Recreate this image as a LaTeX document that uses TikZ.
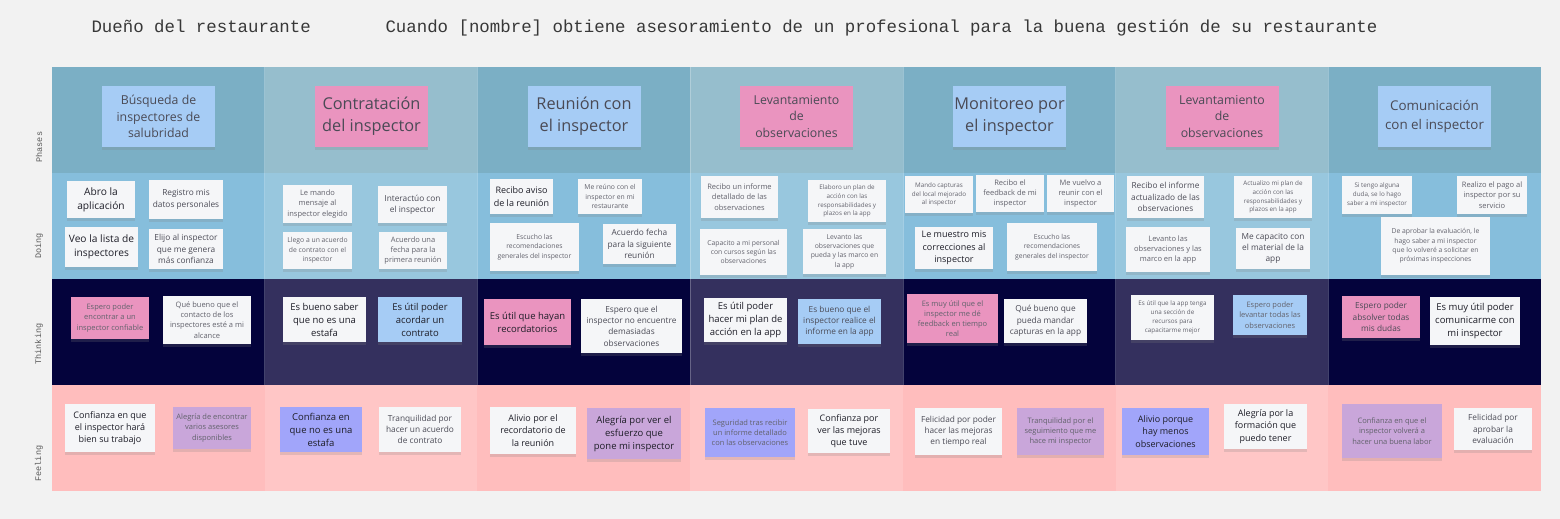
\documentclass[tikz,border=0pt]{standalone}
\usepackage{fontspec}
\setmainfont{Open Sans}
\newfontfamily\monofont{Liberation Mono}
\usetikzlibrary{shadows}
\definecolor{pagebg}{HTML}{F2F2F2}
\definecolor{phA}{HTML}{7BAFC5}
\definecolor{phB}{HTML}{96BECD}
\definecolor{doA}{HTML}{86BEDC}
\definecolor{doB}{HTML}{98C7DE}
\definecolor{thA}{HTML}{04033C}
\definecolor{thB}{HTML}{34305E}
\definecolor{feA}{HTML}{FFBDBD}
\definecolor{feB}{HTML}{FFC6C6}
\definecolor{notewh}{HTML}{F5F6F8}
\definecolor{notebl}{HTML}{A6CCF5}
\definecolor{notepk}{HTML}{EA94BF}
\definecolor{notevi}{HTML}{A1A5FA}
\definecolor{notela}{HTML}{C9A6DA}
\definecolor{txtA}{HTML}{1E1E28}
\definecolor{txtB}{HTML}{4A4A55}
\definecolor{txtC}{HTML}{62626C}
\begin{document}
\begin{tikzpicture}[x=1pt,y=-1pt,
    note/.style={rectangle,inner sep=0pt,align=center,
      drop shadow={shadow xshift=0pt,shadow yshift=-2.5pt,opacity=.22}},
    wh/.style={note,fill=notewh},
    bl/.style={note,fill=notebl},
    pk/.style={note,fill=notepk},
    vi/.style={note,fill=notevi},
    la/.style={note,fill=notela},
    sz/.style 2 args={minimum width=#1pt,minimum height=#2pt},
    phase/.style={sz={113}{61},text=txtB},
    ph16/.style={font=\fontsize{16.3}{22}\selectfont},
    ph13/.style={font=\fontsize{13.4}{19}\selectfont},
    ph12/.style={font=\fontsize{12.3}{16.8}\selectfont},
    n10/.style={font=\fontsize{10.2}{13.8}\selectfont,text=txtA},
    n95/.style={font=\fontsize{9.5}{13}\selectfont,text=txtA},
    n9/.style={font=\fontsize{9}{12.3}\selectfont,text=txtA},
    n8/.style={font=\fontsize{8.3}{11.3}\selectfont,text=txtB},
    n7/.style={font=\fontsize{7.5}{10.2}\selectfont,text=txtC},
    n6/.style={font=\fontsize{6.8}{9.4}\selectfont,text=txtC},
    n5/.style={font=\fontsize{6.3}{8.8}\selectfont,text=txtC},
    rowlab/.style={rotate=90,anchor=west,font=\monofont\fontsize{8.5}{10}\selectfont,text=black!65},
    title/.style={anchor=base west,font=\monofont\fontsize{17.4}{20}\selectfont,text=black!78}]

  \fill[pagebg] (0,0) rectangle (1560,519);

  \node[title] (persona) at (88,33) {Dueño del restaurante};
  \node[title] (scenario) at (382,33) {Cuando [nombre] obtiene asesoramiento de un profesional para la buena gestión de su restaurante};

  \foreach \c [count=\i from 0] in {A,B,A,B,A,B,A}{
    \fill[ph\c] (52+212.71*\i,67) rectangle +(212.71,105.5);
    \fill[do\c] (52+212.71*\i,172.5) rectangle +(212.71,106);
    \fill[th\c] (52+212.71*\i,278.5) rectangle +(212.71,106.5);
    \fill[fe\c] (52+212.71*\i,385) rectangle +(212.71,106);
  }
  \foreach \i in {1,...,6}
    \draw[white,opacity=.25,line width=.6pt] (52+212.71*\i,67) -- (52+212.71*\i,385);

  \node[rowlab] (lbphases) at (39,166) {Phases};
  \node[rowlab] (lbdoing) at (39,262) {Doing};
  \node[rowlab] (lbthinking) at (39,368) {Thinking};
  \node[rowlab] (lbfeeling) at (39,485) {Feeling};

  % phases
  \node[bl,phase,ph12] (p1) at (158.5,116.5) {Búsqueda de\\inspectores de\\salubridad};
  \node[pk,phase,ph16] (p2) at (371.5,116.5) {Contratación\\del inspector};
  \node[bl,phase,ph16] (p3) at (584,116.5) {Reunión con\\el inspector};
  \node[pk,phase,ph12] (p4) at (796.5,116.5) {Levantamiento\\de\\observaciones};
  \node[bl,phase,ph16] (p5) at (1009.5,116.5) {Monitoreo por\\el inspector};
  \node[pk,phase,ph12] (p6) at (1222,116.5) {Levantamiento\\de\\observaciones};
  \node[bl,phase,ph13] (p7) at (1434.5,116.5) {Comunicación\\con el inspector};

  % doing
  \node[wh,sz={68}{37},n10] (d1a) at (101,199.5) {Abro la\\aplicación};
  \node[wh,sz={74}{39},n8] (d1b) at (186,199.5) {Registro mis\\datos personales};
  \node[wh,sz={73}{40},n10] (d1c) at (101.5,247) {Veo la lista de\\inspectores};
  \node[wh,sz={74}{40},n8] (d1d) at (186,249) {Elijo al inspector\\que me genera\\más confianza};
  \node[wh,sz={69}{38},n7] (d2a) at (317.5,204) {Le mando\\mensaje al\\inspector elegido};
  \node[wh,sz={69}{37},n8] (d2b) at (412.5,204.5) {Interactúo con\\el inspector};
  \node[wh,sz={69}{37},n6] (d2c) at (317.5,250.5) {Llego a un acuerdo\\de contrato con el\\inspector};
  \node[wh,sz={68}{37},n7] (d2d) at (413,250.5) {Acuerdo una\\fecha para la\\primera reunión};
  \node[wh,sz={63}{35},n9] (d3a) at (521.5,196.5) {Recibo aviso\\de la reunión};
  \node[wh,sz={64}{35},n6] (d3b) at (610,196.5) {Me reúno con el\\inspector en mi\\restaurante};
  \node[wh,sz={89}{48},n6] (d3c) at (534.5,247) {Escucho las\\recomendaciones\\generales del inspector};
  \node[wh,sz={73}{40},n8] (d3d) at (639.5,244) {Acuerdo fecha\\para la siguiente\\reunión};
  \node[wh,sz={77}{42},n7] (d4a) at (739.5,197) {Recibo un informe\\detallado de las\\observaciones};
  \node[wh,sz={78}{42},n5] (d4b) at (847,201) {Elaboro un plan de\\acción con las\\responsabilidades y\\plazos en la app};
  \node[wh,sz={87}{46},n6] (d4c) at (743.5,252) {Capacito a mi personal\\con cursos según las\\observaciones};
  \node[wh,sz={83}{45},n6] (d4d) at (844.5,251.5) {Levanto las\\observaciones que\\pueda y las marco en\\la app};
  \node[wh,sz={68}{37},n5] (d5a) at (939,194.5) {Mando capturas\\del local mejorado\\al inspector};
  \node[wh,sz={68}{37},n7] (d5b) at (1010,193.5) {Recibo el\\feedback de mi\\inspector};
  \node[wh,sz={67}{37},n7] (d5c) at (1080.5,193.5) {Me vuelvo a\\reunir con el\\inspector};
  \node[wh,sz={78}{42},n9] (d5d) at (954,248) {Le muestro mis\\correcciones al\\inspector};
  \node[wh,sz={90}{48},n6] (d5e) at (1052,247) {Escucho las\\recomendaciones\\generales del inspector};
  \node[wh,sz={77}{42},n8] (d6a) at (1165.5,197) {Recibo el informe\\actualizado de las\\observaciones};
  \node[wh,sz={78}{42},n5] (d6b) at (1273,197) {Actualizo mi plan de\\acción con las\\responsabilidades y\\plazos en la app};
  \node[wh,sz={84}{45},n7] (d6c) at (1168,249.5) {Levanto las\\observaciones y las\\marco en la app};
  \node[wh,sz={74}{41},n8] (d6d) at (1273,248.5) {Me capacito con\\el material de la\\app};
  \node[wh,sz={70}{38},n5] (d7a) at (1377,195) {Si tengo alguna\\duda, se lo hago\\saber a mi inspector};
  \node[wh,sz={70}{38},n7] (d7b) at (1492,195) {Realizo el pago al\\inspector por su\\servicio};
  \node[wh,sz={109}{58},n6] (d7c) at (1435.5,246) {De aprobar la evaluación, le\\hago saber a mi inspector\\que lo volveré a solicitar en\\próximas inspecciones};

  % thinking
  \node[pk,sz={78}{42},n7] (t1a) at (110,318) {Espero poder\\encontrar a un\\inspector confiable};
  \node[wh,sz={88}{48},n7] (t1b) at (207,320) {Qué bueno que el\\contacto de los\\inspectores esté a mi\\alcance};
  \node[wh,sz={83}{45},n95] (t2a) at (324.5,319.5) {Es bueno saber\\que no es una\\estafa};
  \node[bl,sz={84}{45},n95] (t2b) at (420,319.5) {Es útil poder\\acordar un\\contrato};
  \node[pk,sz={87}{46},n95] (t3a) at (527.5,322) {Es útil que hayan\\recordatorios};
  \node[wh,sz={101}{54},n8] (t3b) at (631.5,326) {Espero que el\\inspector no encuentre\\demasiadas\\observaciones};
  \node[wh,sz={83}{44},n95] (t4a) at (745.5,320) {Es útil poder\\hacer mi plan de\\acción en la app};
  \node[bl,sz={83}{45},n8] (t4b) at (839.5,321.5) {Es bueno que el\\inspector realice el\\informe en la app};
  \node[pk,sz={91}{49},n7] (t5a) at (952.5,318.5) {Es muy útil que el\\inspector me dé\\feedback en tiempo\\real};
  \node[wh,sz={83}{44},n8] (t5b) at (1045.5,321) {Qué bueno que\\pueda mandar\\capturas en la app};
  \node[wh,sz={83}{45},n5] (t6a) at (1172.5,317.5) {Es útil que la app tenga\\una sección de\\recursos para\\capacitarme mejor};
  \node[bl,sz={74}{40},n7] (t6b) at (1270,315) {Espero poder\\levantar todas las\\observaciones};
  \node[pk,sz={78}{42},n8] (t7a) at (1381,317) {Espero poder\\absolver todas\\mis dudas};
  \node[wh,sz={90}{48},n95] (t7b) at (1475,321) {Es muy útil poder\\comunicarme con\\mi inspector};

  % feeling
  \node[wh,sz={90}{48},n9] (f1a) at (110,428) {Confianza en que\\el inspector hará\\bien su trabajo};
  \node[la,sz={78}{42},n7] (f1b) at (212,428) {Alegría de encontrar\\varios asesores\\disponibles};
  \node[vi,sz={82}{45},n95] (f2a) at (321,429.5) {Confianza en\\que no es una\\estafa};
  \node[wh,sz={82}{45},n8] (f2b) at (420,429.5) {Tranquilidad por\\hacer un acuerdo\\de contrato};
  \node[wh,sz={86}{47},n9] (f3a) at (533,430.5) {Alivio por el\\recordatorio de\\la reunión};
  \node[la,sz={94}{51},n95] (f3b) at (634,433.5) {Alegría por ver el\\esfuerzo que\\pone mi inspector};
  \node[vi,sz={90}{49},n7] (f4a) at (750,432.5) {Seguridad tras recibir\\un informe detallado\\con las observaciones};
  \node[wh,sz={82}{44},n9] (f4b) at (849,431) {Confianza por\\ver las mejoras\\que tuve};
  \node[wh,sz={87}{47},n8] (f5a) at (958.5,431.5) {Felicidad por poder\\hacer las mejoras\\en tiempo real};
  \node[la,sz={87}{47},n7] (f5b) at (1060.5,431.5) {Tranquilidad por el\\seguimiento que me\\hace mi inspector};
  \node[vi,sz={87}{47},n9] (f6a) at (1165.5,431.5) {Alivio porque\\hay menos\\observaciones};
  \node[wh,sz={83}{45},n9] (f6b) at (1265.5,426.5) {Alegría por la\\formación que\\puedo tener};
  \node[la,sz={100}{54},n7] (f7a) at (1392,431) {Confianza en que el\\inspector volverá a\\hacer una buena labor};
  \node[wh,sz={78}{42},n8] (f7b) at (1493,429) {Felicidad por\\aprobar la\\evaluación};
\end{tikzpicture}
\end{document}
